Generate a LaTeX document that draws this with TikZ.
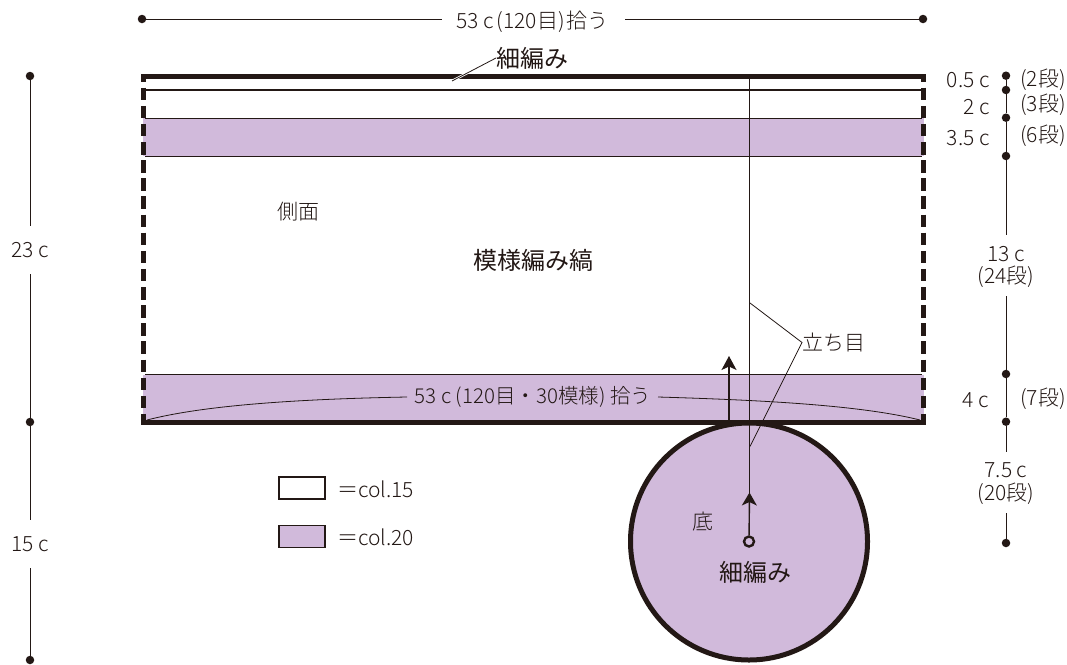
\documentclass[tikz,border=0pt]{standalone}
\usepackage{fontspec}
\setmainfont{Noto Sans CJK JP Light}
\newfontfamily\regfont{Noto Sans CJK JP}
\usetikzlibrary{arrows.meta}
\definecolor{lil}{HTML}{D1BADB}
\definecolor{ink}{HTML}{231815}
\tikzset{
  dimline/.style={ink,line width=0.9pt},
  thin leader/.style={ink,line width=0.8pt},
  dimdot/.style={circle,fill=ink,inner sep=0pt,minimum size=8.5pt},
  lbl/.style={text=ink,font=\fontsize{21}{23}\selectfont,inner sep=0pt},
  lblb/.style={text=ink,font=\regfont\fontsize{24}{26}\selectfont,inner sep=0pt},
  heavy/.style={ink,line width=5pt},
  sidedash/.style={ink,line width=5pt,dash pattern=on 12.5pt off 5.625pt,dash phase=5.5pt},
  legendbox/.style={draw=ink,line width=1.2pt,minimum width=46pt,minimum height=22pt,inner sep=0pt},
}
\begin{document}
\begin{tikzpicture}[x=1pt,y=-1pt]
\useasboundingbox (0,0) rectangle (1067,664);
\fill[white] (0,0) rectangle (1067,664);
% bands
\fill[lil] (143,118) rectangle (924,156);
\fill[lil] (143,374.5) rectangle (924,422);
\draw[ink,line width=0.9pt] (145,118) -- (922,118) (145,156) -- (922,156) (145,374.5) -- (922,374.5);
\draw[ink,line width=2.6pt] (141,89.8) -- (926,89.8);
% sides
\draw[sidedash] (143.4,75) -- (143.4,423);
\draw[sidedash] (923.6,75) -- (923.6,423);
\draw[heavy] (141,76) -- (926,76);
% circle
\node[circle,fill=lil,draw=ink,line width=5pt,minimum size=237pt,inner sep=0pt] (bottom) at (749,541.5) {};
\draw[heavy] (141,422) -- (926,422);
% curve
\coordinate (cl) at (147,420);
\coordinate (cr) at (920,420);
\coordinate (cla) at (407,397);
\coordinate (cra) at (658,397);
\node[lbl,font=\fontsize{20.5}{23}\selectfont] (t53b) at (533,397) {53 c (120目・30模様) 拾う};
\draw[thin leader] (cl) .. controls (205,405) and (300,399) .. (cla);
\draw[thin leader] (cr) .. controls (860,405) and (760,400) .. (cra);
% centre line
\node[circle,draw=ink,fill=lil,line width=2.4pt,minimum size=10pt,inner sep=0pt] (o) at (749,541.5) {};
\coordinate (ctop) at (749.5,76);
\coordinate (cbot) at (749.5,500);
\draw[ink,line width=1.3pt] (ctop) -- (cbot);
\coordinate (ahead) at (749.5,492.5);
\draw[ink,line width=1.4pt,-{Stealth[length=13pt,width=15pt,inset=3.5pt]}] (o) -- (ahead);
\coordinate (a0) at (729,422);
\coordinate (a1) at (729,356);
\draw[ink,line width=1.2pt,-{Stealth[length=14pt,width=15pt,inset=3.5pt]}] (a0) -- (a1);
% leader
\node[lbl,anchor=west] (tachi) at (802,342.5) {立ち目};
\coordinate (l1) at (750,303);
\coordinate (l2) at (750,446.5);
\draw[thin leader] (l1) -- (tachi.west) -- (l2);
% top text
\node[lblb,anchor=west] (hoso) at (496,58) {細編み};
\coordinate (hl) at (452,81);
\draw[white,line width=2.4pt] (hl) -- (hoso.west);
\draw[thin leader] (hl) -- (hoso.west);
\node[lbl] (sokumen) at (298,212) {側面};
\node[lblb] (moyo) at (533,260) {模様編み縞};
\node[lbl] (soko) at (703,522) {底};
\node[lblb] (hoso2) at (755,572) {細編み};
% top dim
\node[dimdot] (tl) at (142,19) {};
\node[dimdot] (tr) at (923,19) {};
\node[lbl] (t53) at (532.5,22) {53 c\hspace{3pt}(120目)\hspace{2pt}拾う};
\coordinate (tg1) at (442,19);
\coordinate (tg2) at (625,19);
\draw[dimline] (tl) -- (tg1);
\draw[dimline] (tg2) -- (tr);
% left dim
\node[dimdot] (ld1) at (30,76) {};
\node[dimdot] (ld2) at (30,422) {};
\node[dimdot] (ld3) at (30,660) {};
\node[lbl] (t23) at (30,250) {23 c};
\node[lbl] (t15) at (30,544) {15 c};
\draw[dimline] (ld1) -- (30,226) (30,274) -- (ld2) -- (30,520) (30,568) -- (ld3);
% right dim
\node[dimdot] (r1) at (1006,75.7) {};
\node[dimdot] (r2) at (1006,90) {};
\node[dimdot] (r3) at (1006,117.7) {};
\node[dimdot] (r4) at (1006,156) {};
\node[dimdot] (r5) at (1006,374) {};
\node[dimdot] (r6) at (1006,421.7) {};
\node[dimdot] (r7) at (1006,543) {};
\draw[dimline] (r1) -- (r2) -- (r3) -- (r4) -- (1006,235) (1006,296) -- (r5) -- (r6) -- (1006,451.5) (1006,513) -- (r7);
\node[lbl,anchor=east] (a) at (990,80) {0.5 c};
\node[lbl,anchor=east] (b) at (990,107) {2 c};
\node[lbl,anchor=east] (c) at (990,138) {3.5 c};
\node[lbl,anchor=west] (a2) at (1020,80) {(2段)};
\node[lbl,anchor=west] (b2) at (1020,105) {(3段)};
\node[lbl,anchor=west] (c2) at (1020,136) {(6段)};
\node[lbl] (d) at (1006,254) {13 c};
\node[lbl] (d2) at (1006,277) {(24段)};
\node[lbl] (e) at (976,400) {4 c};
\node[lbl,anchor=west] (e2) at (1020,399) {(7段)};
\node[lbl] (f) at (1006,470) {7.5 c};
\node[lbl] (f2) at (1006,494) {(20段)};
% legend
\node[legendbox,fill=white] (k1) at (302,488) {};
\node[legendbox,fill=lil] (k2) at (302,536.5) {};
\node[lbl,anchor=west] (k1t) at (337,489) {＝col.15};
\node[lbl,anchor=west] (k2t) at (337,537) {＝col.20};
\end{tikzpicture}
\end{document}
